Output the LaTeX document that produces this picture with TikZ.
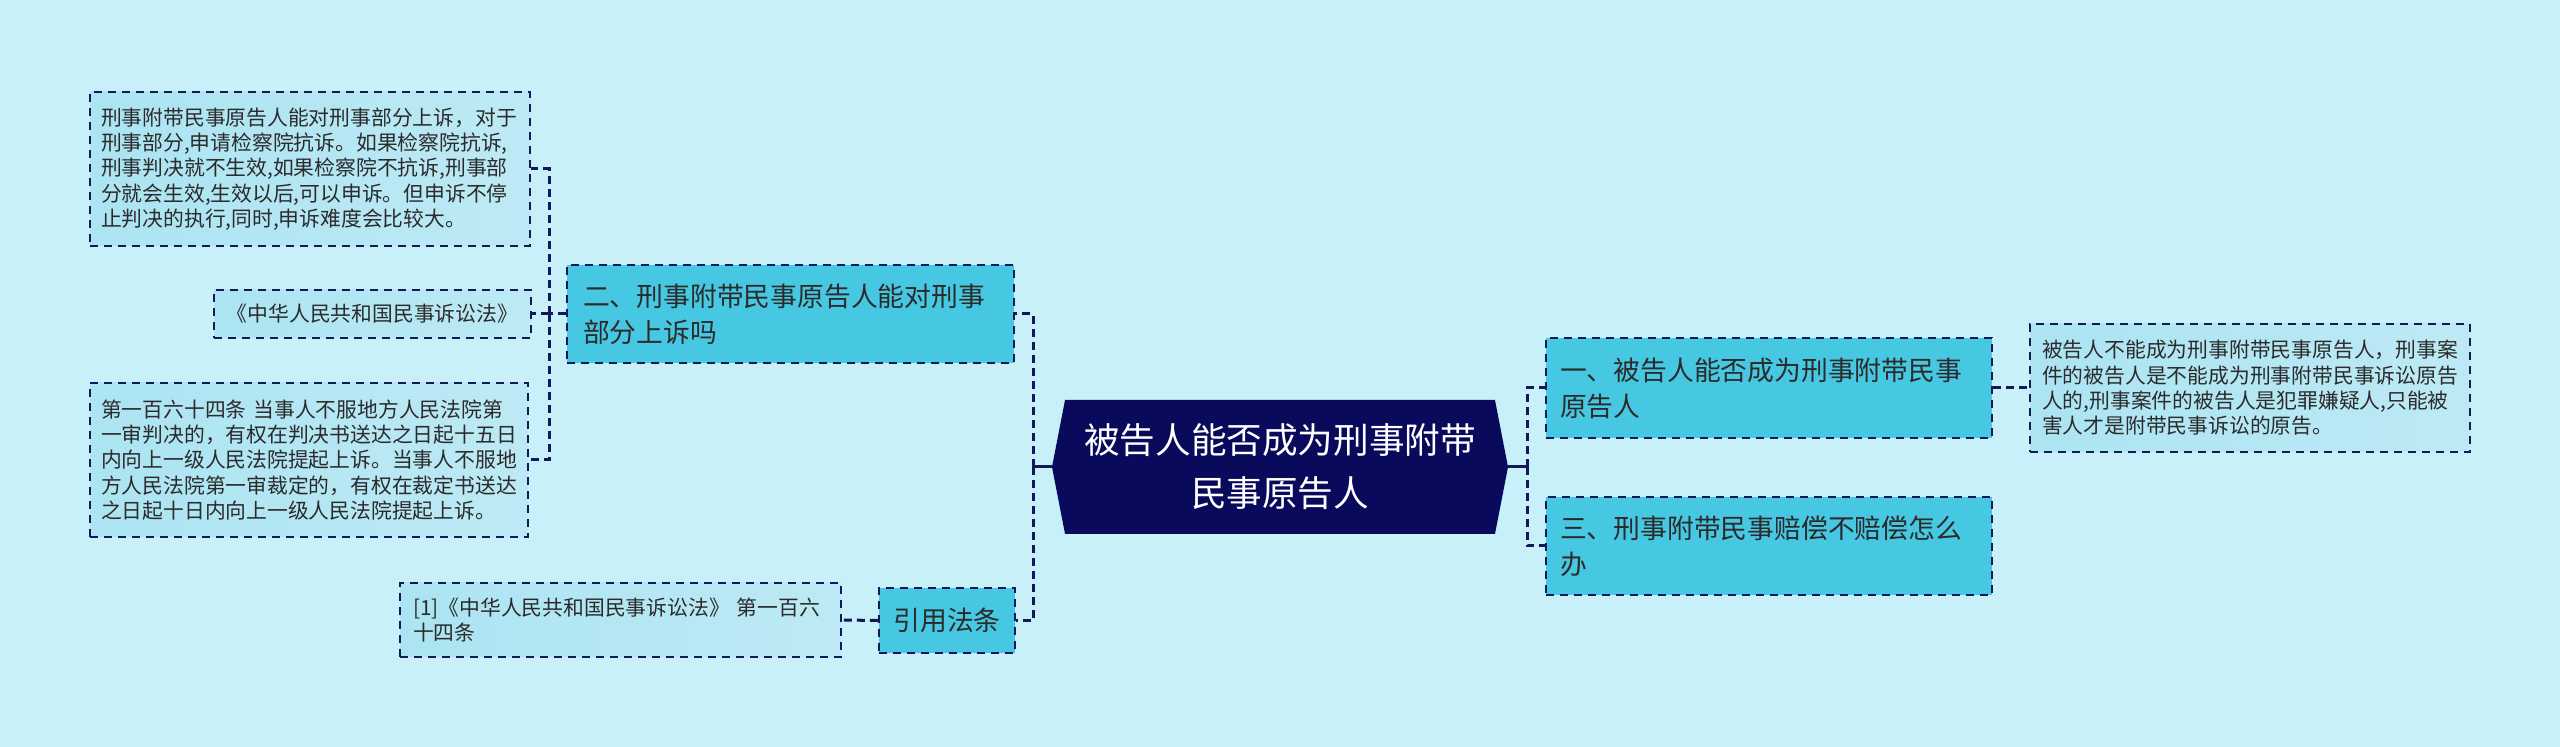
\documentclass[tikz,border=0pt]{standalone}
\usepackage{fontspec}
\setmainfont{Noto Sans CJK SC}
\usepackage{xcolor}
\usepackage{tikz}
\usetikzlibrary{shapes.symbols}

\definecolor{bgcyan}{HTML}{C8F0F8}
\definecolor{rootnavy}{HTML}{0A0A5C}
\definecolor{topiccyan}{HTML}{47C8E2}
\definecolor{leafcyan}{HTML}{ACE4F2}
\definecolor{edgenavy}{HTML}{12185A}
\definecolor{inkgray}{HTML}{2B2B2B}

\begin{document}
\begin{tikzpicture}[x=0.5pt, y=-0.5pt,
  rootbox/.style={signal, signal to=east and west, signal pointer angle=158,
    fill=rootnavy, text=white, inner sep=0pt, align=center,
    minimum width=228pt, minimum height=67pt,
    font=\fontsize{17.8pt}{26.5pt}\selectfont},
  topicbox/.style={draw=edgenavy, dash pattern=on 4pt off 3pt, line width=1.1pt,
    fill=topiccyan, text=inkgray, inner sep=0pt, align=left,
    font=\fontsize{13.4pt}{18pt}\selectfont},
  leafbox/.style={draw=edgenavy, dash pattern=on 4pt off 3pt, line width=1.1pt,
    left color=leafcyan, right color=leafcyan!80!white, text=inkgray,
    inner sep=0pt, align=left,
    font=\fontsize{10.4pt}{12.65pt}\selectfont},
  link/.style={draw=edgenavy, dash pattern=on 4pt off 2.5pt, line width=1.5pt},
  stub/.style={draw=edgenavy, line width=1.5pt}]

  \fill[bgcyan] (0,0) rectangle (2560,747);
  \useasboundingbox (0,0) rectangle (2560,747);

  % centre
  \node[rootbox] (root) at (1280,467) {被告人能否成为刑事附带\\民事原告人};

  % left branches
  \node[topicbox, minimum width=223.5pt, minimum height=49pt, text width=207.5pt] (appeal) at (790.5,314) {二、刑事附带民事原告人能对刑事\\部分上诉吗};
  \node[topicbox, minimum width=68pt, minimum height=32.5pt] (cite) at (947,620.5) {引用法条};

  % right branches
  \node[topicbox, minimum width=223pt, minimum height=50pt, text width=209pt] (plaintiff) at (1769,388) {一、被告人能否成为刑事附带民事\\原告人};
  \node[topicbox, minimum width=223pt, minimum height=49pt, text width=209pt] (compensate) at (1769,546) {三、刑事附带民事赔偿不赔偿怎么\\办};

  % leaves
  \node[leafbox, minimum width=220pt, minimum height=77pt, text width=209pt] (appealtext) at (310,169) {刑事附带民事原告人能对刑事部分上诉，对于\\刑事部分,申请检察院抗诉。如果检察院抗诉,\\刑事判决就不生效,如果检察院不抗诉,刑事部\\分就会生效,生效以后,可以申诉。但申诉不停\\止判决的执行,同时,申诉难度会比较大。};
  \node[leafbox, minimum width=158.5pt, minimum height=24pt] (lawname) at (372.5,314) {《中华人民共和国民事诉讼法》};
  \node[leafbox, minimum width=219pt, minimum height=77pt, text width=208pt] (article) at (309,460) {第一百六十四条 当事人不服地方人民法院第\\一审判决的，有权在判决书送达之日起十五日\\内向上一级人民法院提起上诉。当事人不服地\\方人民法院第一审裁定的，有权在裁定书送达\\之日起十日内向上一级人民法院提起上诉。};
  \node[leafbox, minimum width=220.5pt, minimum height=37pt, text width=207.5pt] (source) at (620.5,620) {[1]《中华人民共和国民事诉讼法》 第一百六\\十四条};
  \node[leafbox, minimum width=220pt, minimum height=64pt, text width=208pt] (answer) at (2250,388) {被告人不能成为刑事附带民事原告人，刑事案\\件的被告人是不能成为刑事附带民事诉讼原告\\人的,刑事案件的被告人是犯罪嫌疑人,只能被\\害人才是附带民事诉讼的原告。};

  % junctions
  \coordinate (jleft) at (1033,467);
  \coordinate (jright) at (1527,467);
  \coordinate (jappeal) at (549,314);

  % connectors
  \draw[stub] (root.west) -- (jleft);
  \draw[link] (jleft) |- (appeal.east);
  \draw[link] (jleft) |- (cite.east);
  \draw[stub] (root.east) -- (jright);
  \draw[link] (jright) |- (plaintiff.west);
  \draw[link] (jright) |- (compensate.west);
  \draw[link] (appeal.west) -- (jappeal);
  \draw[link] (jappeal) |- (appealtext.east);
  \draw[link] (jappeal) -- (lawname.east);
  \draw[link] (jappeal) |- (article.east);
  \draw[link] (cite.west) -- (source.east);
  \draw[link] (plaintiff.east) -- (answer.west);
\end{tikzpicture}
\end{document}
